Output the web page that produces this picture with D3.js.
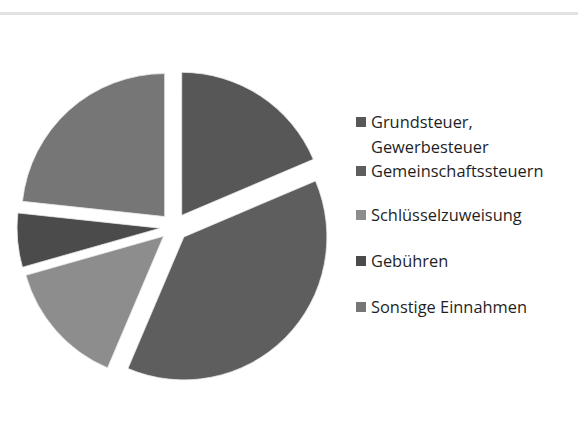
<!DOCTYPE html>
<html lang="de">
<head>
    <meta charset="UTF-8">
    <title>Einnahmen</title>
    <script src="https://d3js.org/d3.v7.min.js"></script>
    <style>
        body { margin: 0; background: #fff; font-family: "Open Sans", sans-serif; }
        .legend text { font-size: 16.4px; fill: #1f1f1f; }
    </style>
</head>
<body>
    <svg id="chart" width="578" height="422"></svg>

    <script>
    const categories = ['Grundsteuer, Gewerbesteuer', 'Gemeinschaftssteuern', 'Schlüsselzuweisung', 'Gebühren', 'Sonstige Einnahmen'];
    const shares = [18.6, 37.8, 14.2, 6.1, 23.3];
    const colors = ['#575757', '#5e5e5e', '#8d8d8d', '#4b4b4b', '#767676'];

    const width = 578, height = 422;
    const cx = 174, cy = 227, radius = 143, explode = 14;

    const svg = d3.select('#chart');

    // thin grey rule at the top
    svg.append('rect')
        .attr('x', 0).attr('y', 12)
        .attr('width', width).attr('height', 3)
        .attr('fill', '#e2e2e2');

    const pie = d3.pie().sort(null).value(d => d.value);
    const arcs = pie(categories.map((c, i) => ({name: c, value: shares[i], color: colors[i]})));

    const arc = d3.arc().innerRadius(0).outerRadius(radius);

    const g = svg.append('g').attr('transform', `translate(${cx}, ${cy})`);

    g.selectAll('path')
        .data(arcs)
        .join('path')
        .attr('transform', d => {
            const a = (d.startAngle + d.endAngle) / 2;
            return `translate(${Math.sin(a) * explode}, ${-Math.cos(a) * explode})`;
        })
        .attr('d', arc)
        .attr('fill', d => d.data.color)
        .attr('stroke', '#e8e8e8')
        .attr('stroke-width', 0.8);

    // legend
    const legendX = 356;
    const rowY = d3.scaleOrdinal()
        .domain(categories)
        .range([128, 177, 221, 267, 313]);

    const legend = svg.append('g').attr('class', 'legend');
    const item = legend.selectAll('g')
        .data(arcs)
        .join('g')
        .attr('transform', d => `translate(${legendX}, ${rowY(d.data.name)})`);

    item.append('rect')
        .attr('x', 0)
        .attr('y', -11)
        .attr('width', 10)
        .attr('height', 10)
        .attr('fill', d => d.data.color);

    item.append('text')
        .attr('x', 15)
        .attr('y', 0)
        .each(function (d) {
            const lines = d.data.name === 'Grundsteuer, Gewerbesteuer'
                ? ['Grundsteuer,', 'Gewerbesteuer'] : [d.data.name];
            d3.select(this).selectAll('tspan')
                .data(lines)
                .join('tspan')
                .attr('x', 15)
                .attr('y', (l, i) => i * 25)
                .text(l => l);
        });
    </script>
</body>
</html>
